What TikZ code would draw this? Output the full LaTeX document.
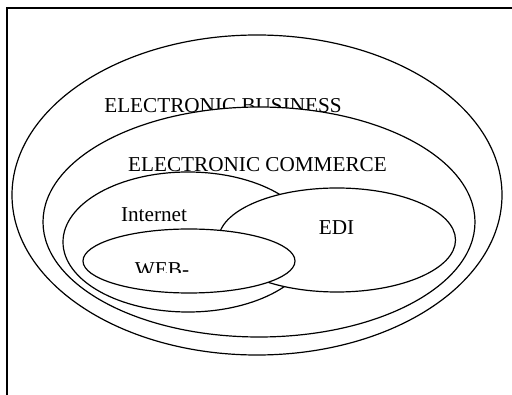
\documentclass[tikz,border=0pt]{standalone}
\usepackage{fontspec}
\setmainfont{Liberation Serif}
\usepackage{xcolor}
\definecolor{LineBlack}{HTML}{000000}
\usepackage{tikz}
\usetikzlibrary{shapes.geometric}

\begin{document}
\begin{tikzpicture}[x=1pt, y=-1pt,
    area/.style={ellipse, draw=LineBlack, fill=white, line width=1.2pt, inner sep=0pt},
    label/.style={font=\fontsize{21.2}{25}\selectfont, anchor=base, inner sep=0pt}]
  % Page and frame (frame runs off at the right and the bottom)
  \useasboundingbox (0,0) rectangle (512,395);
  \draw[LineBlack, line width=1.5pt] (7,395) -- (7,8) -- (512,8);

  % Electronic business
  \node[area, minimum width=490pt, minimum height=320pt] (ebiz) at (257,195) {};
  \node[label] (ebiztext) at (223,113) {ELECTRONIC BUSINESS};

  % Electronic commerce (covers the lower half of the label above)
  \node[area, minimum width=432pt, minimum height=230pt] (ecom) at (259,222) {};
  \node[label] (ecomtext) at (257.5,172) {ELECTRONIC COMMERCE};

  % Internet, EDI and WEB
  \node[area, minimum width=250pt, minimum height=140pt] (inet) at (188,242) {};
  \node[label] (inettext) at (154,222) {Internet};
  \node[area, minimum width=237pt, minimum height=104pt] (edi) at (337,240) {};
  \node[label] (editext) at (336.5,235) {EDI};
  \node[area, minimum width=212pt, minimum height=64pt] (web) at (189,261) {};
  \begin{scope}
    \clip (120,250) rectangle (210,273);
    \node[label] (webtext) at (162,277) {WEB-};
  \end{scope}
\end{tikzpicture}
\end{document}
